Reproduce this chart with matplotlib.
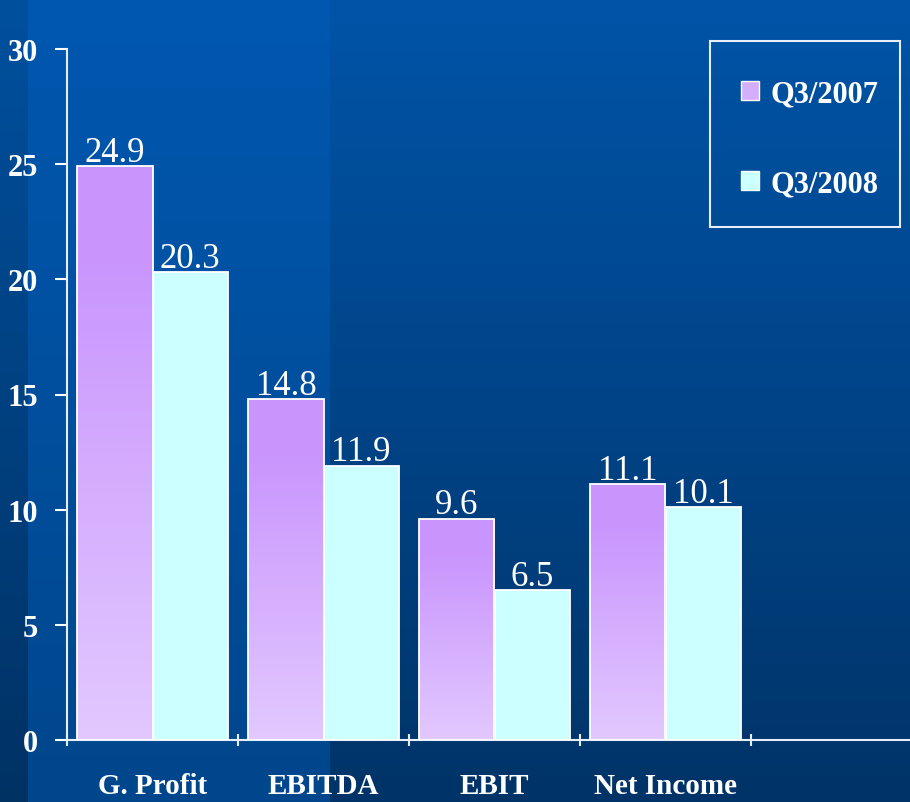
import matplotlib
matplotlib.use('Agg')
import matplotlib.pyplot as plt
import numpy as np
from matplotlib.colors import to_rgb
from matplotlib.patches import Patch, Rectangle

categories = ['G. Profit', 'EBITDA', 'EBIT', 'Net Income']
q3_2007 = [24.9, 14.8, 9.6, 11.1]
q3_2008 = [20.3, 11.9, 6.5, 10.1]
series_names = ['Q3/2007', 'Q3/2008']

W, H = 910, 803
fig = plt.figure(figsize=(W / 100, H / 100), dpi=100)

# background: dark blue vertical gradient with a lighter band on the left
bg = fig.add_axes([0, 0, 1, 1], zorder=-10)
t = np.linspace(0, 1, H)[:, None]
def grad(top, bot):
    top = np.array(top) / 255.0
    bot = np.array(bot) / 255.0
    return top + (bot - top) * t[..., None]
img = np.repeat(grad((0, 84, 168), (0, 52, 104)), W, axis=1)
img[:, 28:330] = grad((0, 88, 176), (0, 70, 140))
img[:, :28] = grad((0, 80, 158), (0, 50, 100))
bg.imshow(img, aspect='auto', extent=(0, 1, 0, 1))
bg.axis('off')

ax = fig.add_axes([67 / W, 62 / H, (W - 67) / W, 691 / H])
ax.patch.set_alpha(0)
slot = 171
ax.set_xlim(0, (W - 67) / slot)
ax.set_ylim(0, 30)

x = np.arange(len(categories))
bw = 0.44
bars1 = ax.bar(x + 0.5 - bw / 2, q3_2007, bw, color='#cc99ff', edgecolor='white', linewidth=1.3, zorder=3)
bars2 = ax.bar(x + 0.5 + bw / 2, q3_2008, bw, color='#ccffff', edgecolor='white', linewidth=1.3, zorder=3)

# purple gradient inside each 2007 bar
top_c = np.array(to_rgb('#c995fd'))
bot_c = np.array(to_rgb('#e2c8ff'))
for b in bars1:
    g = np.linspace(0, 1, 100)[:, None]
    g = np.clip((g - 0.15) / 0.85, 0, 1)
    col = top_c + (bot_c - top_c) * g[..., None]
    x0, y0, w, h = b.get_x(), b.get_y(), b.get_width(), b.get_height()
    im = ax.imshow(col, extent=(x0, x0 + w, y0, y0 + h), aspect='auto', origin='upper', zorder=3.5)
    im.set_clip_path(b)
    b.set_facecolor('none')
    b.set_zorder(4)

for bars, vals in [(bars1, q3_2007), (bars2, q3_2008)]:
    for b, v in zip(bars, vals):
        ax.annotate(f'{v}', (b.get_x() + b.get_width() / 2, v), xytext=(0, 4),
                    textcoords='offset points', ha='center', va='baseline',
                    color='white', fontsize=25, family='Liberation Serif')

for s in ['top', 'right']:
    ax.spines[s].set_visible(False)
for s in ['left', 'bottom']:
    ax.spines[s].set_color('#e8eef8')
    ax.spines[s].set_linewidth(1.5)

ax.set_yticks([0, 5, 10, 15, 20, 25, 30])
ax.tick_params(axis='y', colors='white', length=9, width=1.5, pad=12,
               labelsize=22, labelcolor='white')
for lab in ax.get_yticklabels():
    lab.set_family('Liberation Serif')
    lab.set_fontweight('bold')

ax.set_xticks([0, 1, 2, 3, 4])
ax.set_xticklabels([])
ax.tick_params(axis='x', which='major', colors='#e8eef8', length=9, width=1.5, direction='inout')
ax.set_xticks(x + 0.5, minor=True)
ax.set_xticklabels(categories, minor=True)
ax.tick_params(axis='x', which='minor', length=0, pad=23, labelsize=21, labelcolor='white')
for lab in ax.get_xticklabels(minor=True):
    lab.set_family('Liberation Serif')
    lab.set_fontweight('bold')

# legend: entries without frame, box drawn separately
handles = [Patch(facecolor='#d4adfe', edgecolor='white', linewidth=1),
           Patch(facecolor='#ccffff', edgecolor='white', linewidth=1)]
leg = fig.legend(handles, series_names, loc='upper left',
                 bbox_to_anchor=(741 / W, 1 - 80 / H), frameon=False,
                 prop={'family': 'Liberation Serif', 'weight': 'bold', 'size': 22},
                 labelcolor='white', handlelength=0.6, handleheight=0.6,
                 handletextpad=0.35, labelspacing=2.0, borderpad=0,
                 borderaxespad=0)
fig.patches.append(Rectangle((710 / W, 1 - 228 / H), 190 / W, 186 / H,
                             transform=fig.transFigure, fill=False,
                             edgecolor='#e8eef8', linewidth=1.5))

fig.savefig('out.png', dpi=100)
